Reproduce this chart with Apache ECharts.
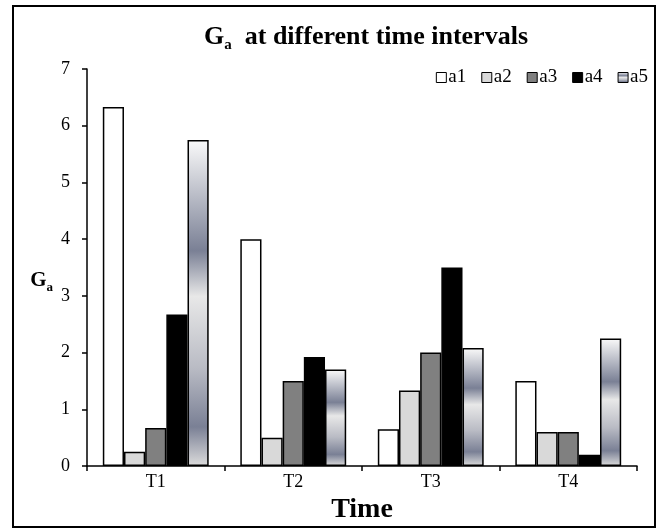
<!DOCTYPE html>
<html><head><meta charset="utf-8">
<script src="https://cdn.jsdelivr.net/npm/echarts@6/dist/echarts.min.js"></script>
<style>html,body{margin:0;padding:0;background:#fff}#c{width:665px;height:532px}</style>
</head><body><div id="c"></div>
<script>
var categories = ['T1','T2','T3','T4'];
var seriesNames = ['a1','a2','a3','a4','a5'];
var a1 = [6.33, 4.0, 0.65, 1.5];
var a2 = [0.25, 0.5, 1.33, 0.6];
var a3 = [0.67, 1.5, 2.0, 0.6];
var a4 = [2.67, 1.92, 3.5, 0.2];
var a5 = [5.75, 1.7, 2.08, 2.25];
var yTicks = [0,1,2,3,4,5,6,7];

var font = '"Liberation Serif", "Times New Roman", serif';
var grad = new echarts.graphic.LinearGradient(0,0,0,1,[
  {offset:0, color:'#fafafa'},
  {offset:0.34, color:'#7a8095'},
  {offset:0.48, color:'#e8e8e8'},
  {offset:0.7, color:'#b9bbc4'},
  {offset:0.88, color:'#7a8095'},
  {offset:1, color:'#dcdcdc'}
]);
var fills = ['#ffffff','#d9d9d9','#808080','#000000', grad];
var datas = [a1,a2,a3,a4,a5];

var chart = echarts.init(document.getElementById('c'));
chart.setOption({
  animation:false,
  backgroundColor:'#fff',
  textStyle:{fontFamily:font},
  graphic:[{type:'rect', shape:{x:13,y:6,width:642,height:521}, style:{fill:'none', stroke:'#000', lineWidth:2}, z:-1}],
  title:{
    text:'{b|G}{s|a}{b|  at different time intervals}',
    left:199, top:17,
    textStyle:{
      rich:{
        b:{fontFamily:font, fontWeight:'bold', fontSize:26, color:'#000', verticalAlign:'bottom', lineHeight:28},
        s:{fontFamily:font, fontWeight:'bold', fontSize:15, color:'#000', verticalAlign:'bottom', lineHeight:17, padding:[0,0,-3,0]}
      }
    }
  },
  legend:{
    data:seriesNames, right:12, top:63, icon:'rect', itemWidth:10, itemHeight:10, itemGap:15,
    textStyle:{fontFamily:font, fontSize:19, color:'#000', padding:[0,0,0,-3]},
    itemStyle:{borderColor:'#000', borderWidth:1}
  },
  grid:{left:87, right:28, top:69, bottom:66},
  xAxis:{
    type:'category', data:categories,
    name:'Time', nameLocation:'middle', nameGap:27,
    nameTextStyle:{fontFamily:font, fontWeight:'bold', fontSize:28, color:'#000'},
    axisLine:{lineStyle:{color:'#000', width:1.5}},
    axisTick:{show:true, length:5, lineStyle:{color:'#000', width:1.5}},
    axisLabel:{fontFamily:font, fontSize:18, color:'#000', margin:7},
    splitLine:{show:false}
  },
  yAxis:{
    type:'value', min:yTicks[0], max:yTicks[yTicks.length-1], interval:1,
    name:'{g|G}{s|a}', nameLocation:'middle', nameRotate:0, nameGap:34,
    nameTextStyle:{padding:[24,0,0,0], rich:{
      g:{fontFamily:font, fontWeight:'bold', fontSize:21, color:'#000', verticalAlign:'bottom', lineHeight:24},
      s:{fontFamily:font, fontWeight:'bold', fontSize:13, color:'#000', verticalAlign:'bottom', lineHeight:15, padding:[0,0,-3,0]}
    }},
    axisLine:{show:true, lineStyle:{color:'#000', width:1.5}},
    axisTick:{show:true, length:5, lineStyle:{color:'#000', width:1.5}},
    axisLabel:{fontFamily:font, fontSize:18, color:'#000', margin:17},
    splitLine:{show:false}
  },
  series: seriesNames.map(function(n,i){
    return {
      name:n, type:'bar', data:datas[i], barGap:'0%', barCategoryGap:'23%',
      itemStyle:{color:fills[i], borderColor:'#000', borderWidth:1.5}
    };
  })
});
</script></body></html>
